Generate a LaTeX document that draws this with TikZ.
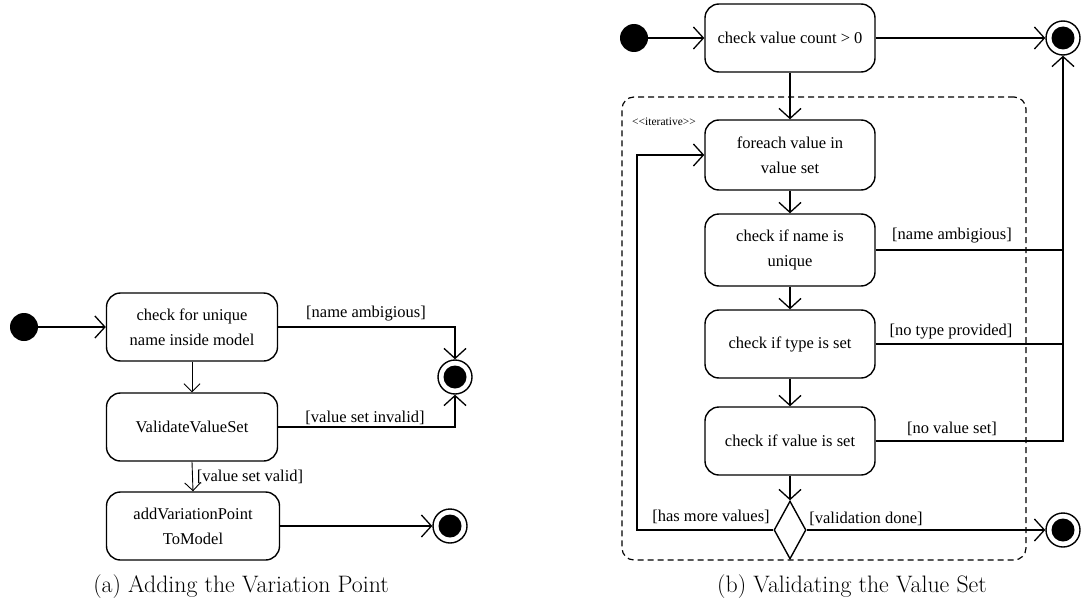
\documentclass[tikz,border=0pt]{standalone}
\usepackage{fontspec}
\newfontfamily\diagfont{Liberation Serif}
\usetikzlibrary{arrows.meta,shapes.geometric}

\begin{document}
\begin{tikzpicture}[x=1pt,y=-1pt,
  action/.style={draw, line width=1.4pt, rounded corners=14pt,
    minimum width=171pt, minimum height=68pt, align=center, inner sep=0pt,
    font=\diagfont\fontsize{16.5}{25}\selectfont},
  initial/.style={circle, fill=black, minimum size=28pt, inner sep=0pt},
  final/.style={circle, draw, line width=1.4pt, minimum size=34pt, inner sep=0pt,
    path picture={\fill (path picture bounding box.center) circle (11.5pt);}},
  decision/.style={diamond, draw, line width=1.4pt, minimum width=32pt,
    minimum height=58pt, inner sep=0pt},
  guard/.style={inner sep=0pt, font=\diagfont\fontsize{16.5}{20}\selectfont},
  flow/.style={line width=1.3pt,
    -{Straight Barb[length=10pt,width=22pt,line width=1.3pt]}},
  thinflow/.style={line width=0.9pt,
    -{Straight Barb[length=8pt,width=16pt,line width=0.9pt]}},
  plain/.style={line width=1.3pt},
  region/.style={draw, dashed, dash pattern=on 6pt off 4pt, line width=1.2pt,
    rounded corners=12pt, inner sep=0pt},
  caption/.style={inner sep=0pt, font=\fontsize{23.8}{28}\selectfont}
]
\useasboundingbox (0,0) rectangle (1084,602);

% ---------- (a) adding the variation point ----------
\node[initial] (ia) at (24,327) {};
\node[action] (a1) at (192,327) {check for unique\\name inside model};
\node[action] (a2) at (192,427) {ValidateValueSet};
\node[action, minimum width=173pt] (a3) at (193,526) {addVariationPoint\\ToModel};
\node[final] (fa1) at (455,377) {};
\node[final] (fa2) at (450,526) {};

\draw[flow] (ia.east) -- (a1.west);
\draw[flow] (a1.east) -| (fa1.north);
\draw[flow] (a2.east) -| (fa1.south);
\draw[thinflow] (a1.south) -- (a2.north);
\draw[thinflow] (a2.south) -- (a3.north);
\draw[flow] (a3.east) -- (fa2.west);

\node[guard] (ga1) at (366,314) {[name ambigious]};
\node[guard] (ga2) at (365,418) {[value set invalid]};
\node[guard] (ga3) at (250,477) {[value set valid]};

\node[caption] (capa) at (241,587) {(a) Adding the Variation Point};

% ---------- (b) validating the value set ----------
\node[region, minimum width=404pt, minimum height=463pt] (loop) at (824,328.5) {};
\node[inner sep=0pt, font=\diagfont\fontsize{11.5}{13}\selectfont] (stereo) at (664,122) {<{}<iterative>{}>};

\node[initial] (ib) at (634,38) {};
\node[action, minimum width=170pt] (b0) at (790,38) {check value count > 0};
\node[action, minimum width=170pt, minimum height=70pt] (b1) at (790,155) {foreach value in\\value set};
\node[action, minimum width=170pt, minimum height=72pt] (b2) at (790,250) {check if name is\\unique};
\node[action, minimum width=170pt] (b3) at (790,344) {check if type is set};
\node[action, minimum width=170pt] (b4) at (790,441) {check if value is set};
\node[decision] (dv) at (790,530) {};
\node[final] (fb1) at (1063,38) {};
\node[final] (fb2) at (1063,530) {};
\coordinate (back) at (637,530);

\draw[flow] (ib.east) -- (b0.west);
\draw[flow] (b0.east) -- (fb1.west);
\draw[flow] (b0.south) -- (b1.north);
\draw[flow] (b1.south) -- (b2.north);
\draw[flow] (b2.south) -- (b3.north);
\draw[flow] (b3.south) -- (b4.north);
\draw[flow] (b4.south) -- (dv.north);
\draw[plain] (b2.east) -- (b2.east -| fb1);
\draw[plain] (b3.east) -- (b3.east -| fb1);
\draw[flow] (b4.east) -| (fb1.south);
\draw[flow] (dv.west) -- (back) |- (b1.west);
\draw[flow] (dv.east) -- (fb2.west);

\node[guard] (gb1) at (952,236) {[name ambigious]};
\node[guard] (gb2) at (951,332) {[no type provided]};
\node[guard] (gb3) at (952,429) {[no value set]};
\node[guard] (gb4) at (711,517) {[has more values]};
\node[guard] (gb5) at (866,519) {[validation done]};

\node[caption] (capb) at (852,587) {(b) Validating the Value Set};
\end{tikzpicture}
\end{document}
